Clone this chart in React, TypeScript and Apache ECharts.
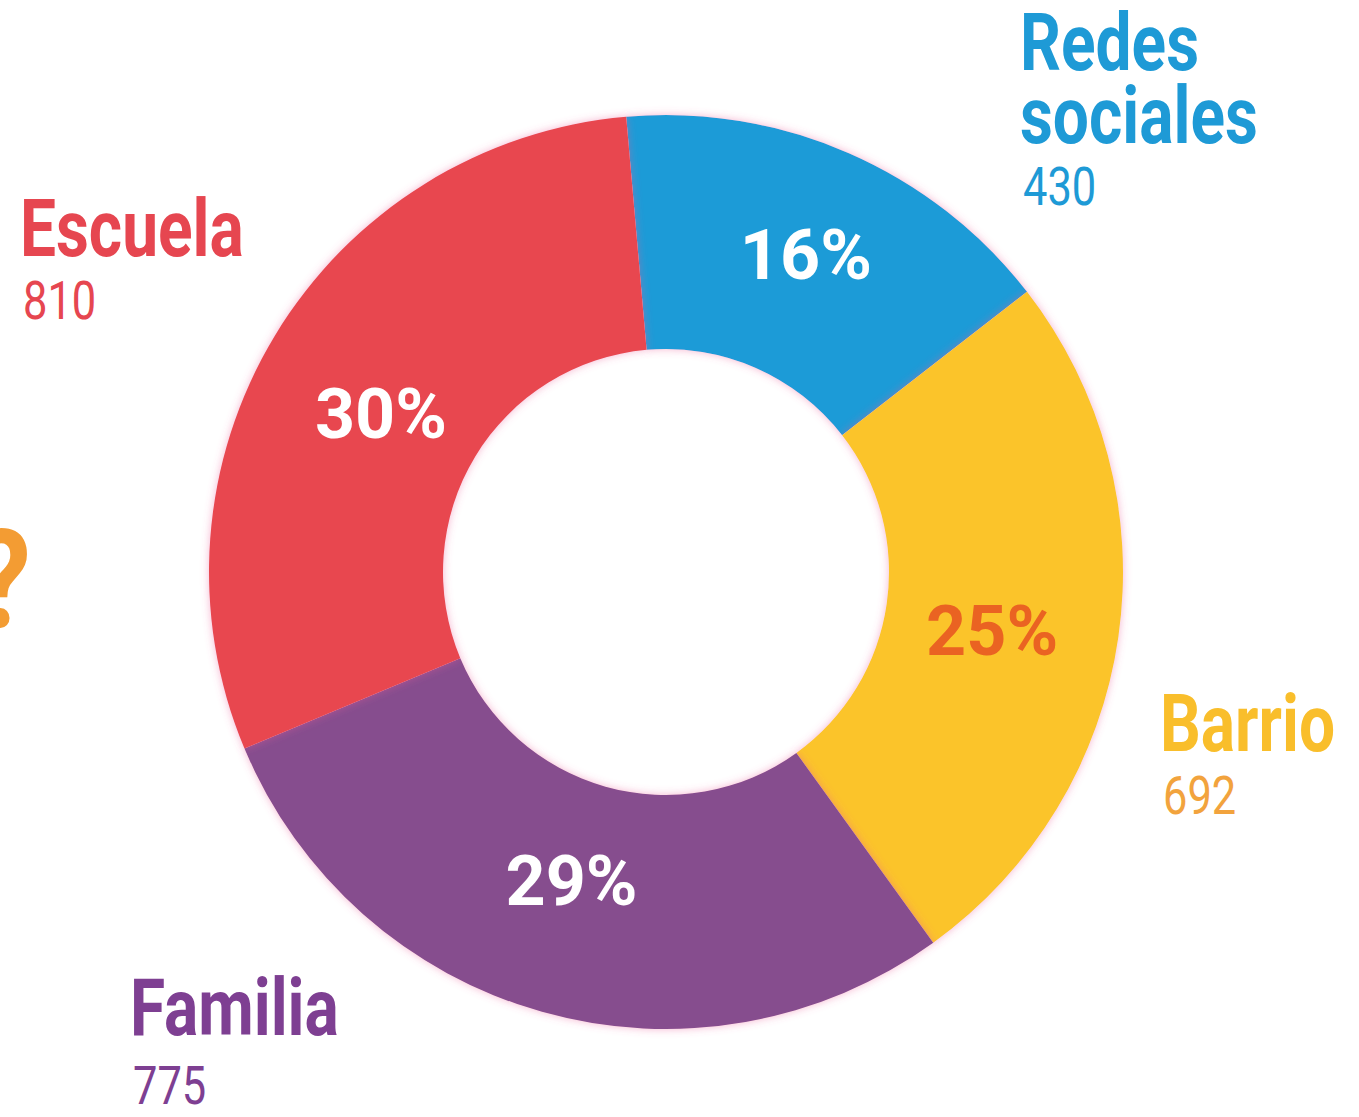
import React, { useEffect, useRef } from "react";
import * as echarts from "echarts";

const categories = ["Redes sociales", "Barrio", "Familia", "Escuela"];
const values = [430, 692, 775, 810];
const pctLabels = ["16%", "25%", "29%", "30%"];
const sliceColors = ["#1E9BD7", "#FBC42A", "#864D8E", "#E8474F"];
const pctColors = ["#FFFFFF", "#EA6322", "#FFFFFF", "#FFFFFF"];
const pctOffsets = [[8, -15], [0, 12], [-5, -8], [-3, 12]];
const nameLines = [["Redes", "sociales"], ["Barrio"], ["Familia"], ["Escuela"]];
const nameColors = ["#1E9AD6", "#F9BE2B", "#7E3F92", "#E64650"];
const valueColors = ["#1E9AD6", "#F2A33D", "#7E3F92", "#E64650"];

// label anchor positions (left x, middle y of first name line, middle y of value)
const labelPos = [
  { x: 1020, y: 43, vy: 187 },
  { x: 1160, y: 724, vy: 796 },
  { x: 130, y: 1008, vy: 1086 },
  { x: 20, y: 229, vy: 301 },
];

export default function App() {
  const ref = useRef<HTMLDivElement>(null);
  useEffect(() => {
    document.body.style.margin = "0";
    const chart = echarts.init(ref.current!, null, { renderer: "svg" });
    const graphics: any[] = [];
    categories.forEach((c, i) => {
      const p = labelPos[i];
      nameLines[i].forEach((line, j) => {
        graphics.push({
          type: "text",
          x: p.x,
          y: p.y + j * 73,
          scaleX: 0.8,
          style: {
            text: line,
            fill: nameColors[i],
            font: "bold 80px Roboto",
            textAlign: "left",
            textVerticalAlign: "middle",
          },
        });
      });
      graphics.push({
        type: "text",
        x: p.x + 3,
        y: p.vy,
        scaleX: 0.82,
        style: {
          text: String(values[i]),
          fill: valueColors[i],
          font: "normal 53px Roboto",
          textAlign: "left",
          textVerticalAlign: "middle",
        },
      });
    });
    graphics.push({
      type: "text",
      x: 31,
      y: 580,
      scaleX: 0.85,
      style: {
        text: "?",
        fill: "#F39C33",
        font: "bold 138px Roboto",
        textAlign: "right",
        textVerticalAlign: "middle",
      },
    });

    const data = categories.map((c, i) => ({
      name: c,
      value: values[i],
      itemStyle: { color: sliceColors[i] },
      label: { formatter: pctLabels[i], color: pctColors[i], offset: pctOffsets[i] },
    }));

    chart.setOption({
      animation: false,
      backgroundColor: "#FFFFFF",
      graphic: graphics,
      series: [
        {
          type: "pie",
          center: [666, 572],
          radius: [223, 457],
          startAngle: 95,
          clockwise: true,
          label: { show: false },
          labelLine: { show: false },
          itemStyle: {
            shadowBlur: 8,
            shadowColor: "rgba(235,90,150,0.45)",
          },
          data,
        },
        {
          type: "pie",
          center: [666, 572],
          radius: [223, 430],
          startAngle: 95,
          clockwise: true,
          silent: true,
          z: 3,
          avoidLabelOverlap: false,
          itemStyle: { color: "rgba(0,0,0,0)", borderWidth: 0 },
          label: {
            show: true,
            position: "inner",
            fontFamily: "Roboto",
            fontWeight: "bold",
            fontSize: 70,
          },
          labelLine: { show: false },
          data: data.map((d) => ({ ...d, itemStyle: { color: "rgba(0,0,0,0)" } })),
        },
      ],
    });
    return () => chart.dispose();
  }, []);
  return <div ref={ref} style={{ width: 1359, height: 1117 }} />;
}
